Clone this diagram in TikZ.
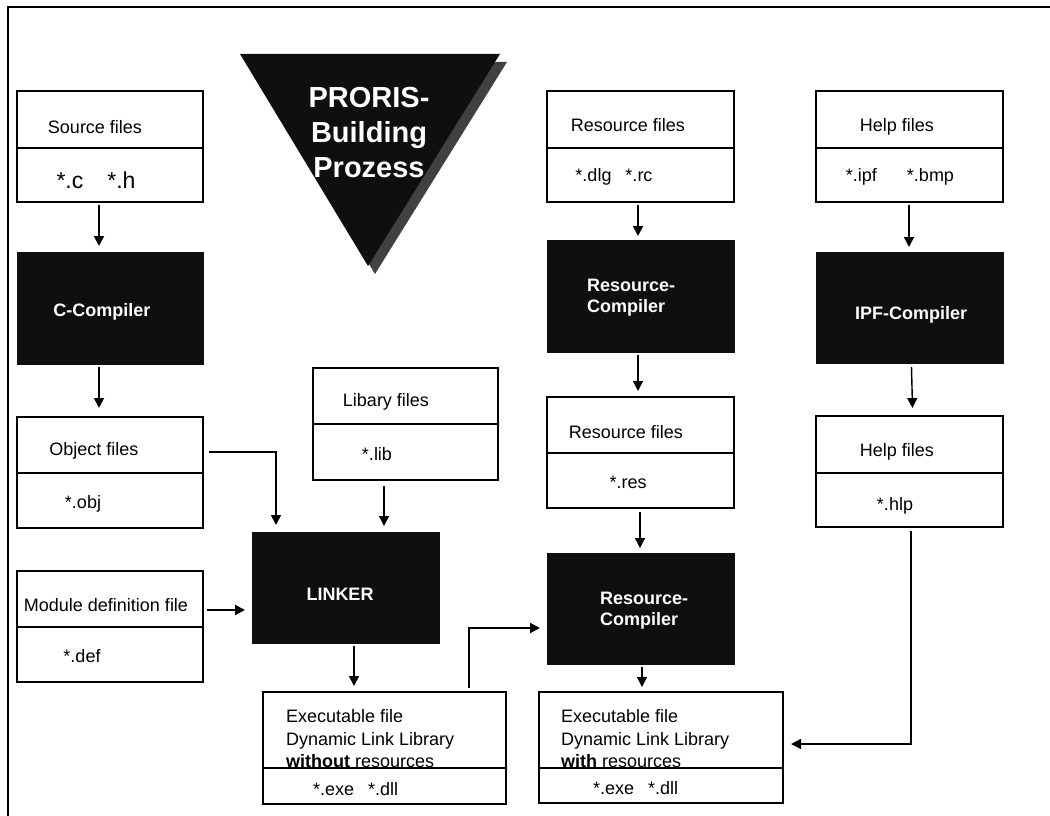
\documentclass[tikz,border=0pt]{standalone}
\usepackage{fontspec}
\setmainfont{Liberation Sans}
\usetikzlibrary{arrows.meta,calc}
\definecolor{boxblack}{HTML}{0F0F0F}
\definecolor{shadowgray}{HTML}{414141}
\begin{document}
\begin{tikzpicture}[x=1pt,y=-1pt,
  fbox/.style={draw=black, line width=1.3pt, fill=white, inner sep=0pt, outer sep=0pt},
  cbox/.style={draw=boxblack, fill=boxblack, inner sep=0pt, outer sep=0pt},
  divline/.style={line width=1.6pt},
  txt/.style={inner sep=0pt, font=\fontsize{18}{22}\selectfont, anchor=base},
  txtl/.style={txt, anchor=base west},
  bigtxt/.style={inner sep=0pt, font=\fontsize{23}{27}\selectfont, anchor=base},
  ctxt/.style={inner sep=0pt, font=\bfseries\fontsize{18}{22}\selectfont, text=white, anchor=base},
  ctxtl/.style={ctxt, anchor=base west},
  tritxt/.style={inner sep=0pt, font=\bfseries\fontsize{29}{35}\selectfont, text=white, anchor=base},
  arr/.style={line width=1.8pt, -{Triangle[length=10pt,width=10pt]}},
  arrthin/.style={line width=1.4pt, -{Triangle[length=10pt,width=10pt]}},
]
\useasboundingbox (0,0) rectangle (1050,816);
% frame
\draw[line width=1.3pt] (8,820) -- (8,7) -- (1055,7);

% triangle title
\fill[shadowgray] (247,62) -- (507,62) -- (375,274) -- cycle;
\fill[boxblack] (240,54) -- (500,54) -- (368,266) -- cycle;
\node[tritxt] (tri1) at (369,107) {PRORIS-};
\node[tritxt] (tri2) at (369,142) {Building};
\node[tritxt] (tri3) at (369,177) {Prozess};

% left column
\node[fbox, minimum width=186pt, minimum height=111pt] (src) at (110,146.5) {};
\draw[divline] (src.west |- 0,148) -- (src.east |- 0,148);
\node[txt] (srct) at (95,133) {Source files};
\node[bigtxt] (srcx) at (96,188) {*.c\hspace{24pt}*.h};

\node[cbox, minimum width=186pt, minimum height=112pt] (cc) at (110,308) {};
\node[ctxt] (cct) at (102,316) {C-Compiler};

\node[fbox, minimum width=186pt, minimum height=111pt] (obj) at (110,472.5) {};
\draw[divline] (obj.west |- 0,473) -- (obj.east |- 0,473);
\node[txt] (objt) at (94,455) {Object files};
\node[txt] (objx) at (83,508) {*.obj};

\node[fbox, minimum width=186pt, minimum height=111pt] (mod) at (110,626.5) {};
\draw[divline] (mod.west |- 0,627) -- (mod.east |- 0,627);
\node[txt] (modt) at (106,611) {Module definition file};
\node[txt] (modx) at (82,662) {*.def};

% library / linker
\node[fbox, minimum width=185pt, minimum height=112pt] (lib) at (405.5,424) {};
\draw[divline] (lib.west |- 0,424) -- (lib.east |- 0,424);
\node[txt] (libt) at (386,406) {Libary files};
\node[txt] (libx) at (377,460) {*.lib};

\node[cbox, minimum width=187pt, minimum height=111pt] (lnk) at (345.5,587.5) {};
\node[ctxt] (lnkt) at (340,600) {LINKER};

\node[fbox, minimum width=243pt, minimum height=112pt] (exeA) at (384.5,748) {};
\draw[divline] (exeA.west |- 0,768) -- (exeA.east |- 0,768);
\node[txtl] (exeAa) at (286,722) {Executable file};
\node[txtl] (exeAb) at (286,745) {Dynamic Link Library};
\node[txtl] (exeAc) at (286,767) {\textbf{without} resources};
\node[txtl] (exeAx) at (313,795) {*.exe\hspace{14pt}*.dll};

% resource column
\node[fbox, minimum width=187pt, minimum height=111pt] (rfA) at (640.5,146.5) {};
\draw[divline] (rfA.west |- 0,148) -- (rfA.east |- 0,148);
\node[txt] (rfAt) at (628,131) {Resource files};
\node[txt] (rfAx) at (614,181) {*.dlg\hspace{14pt}*.rc};

\node[cbox, minimum width=187pt, minimum height=112pt] (rcA) at (640.5,296) {};
\node[ctxtl] (rcAa) at (587,291) {Resource-};
\node[ctxtl] (rcAb) at (587,312) {Compiler};

\node[fbox, minimum width=187pt, minimum height=111pt] (rfB) at (640.5,452.5) {};
\draw[divline] (rfB.west |- 0,453) -- (rfB.east |- 0,453);
\node[txt] (rfBt) at (626,438) {Resource files};
\node[txt] (rfBx) at (628,488) {*.res};

\node[cbox, minimum width=187pt, minimum height=111pt] (rcB) at (640.5,608.5) {};
\node[ctxtl] (rcBa) at (600,604) {Resource-};
\node[ctxtl] (rcBb) at (600,625) {Compiler};

\node[fbox, minimum width=244pt, minimum height=111pt] (exeB) at (661,747.5) {};
\draw[divline] (exeB.west |- 0,768) -- (exeB.east |- 0,768);
\node[txtl] (exeBa) at (561,722) {Executable file};
\node[txtl] (exeBb) at (561,745) {Dynamic Link Library};
\node[txtl] (exeBc) at (561,767) {\textbf{with} resources};
\node[txtl] (exeBx) at (593,794) {*.exe\hspace{14pt}*.dll};

% help column
\node[fbox, minimum width=187pt, minimum height=111pt] (hfA) at (909.5,146.5) {};
\draw[divline] (hfA.west |- 0,148) -- (hfA.east |- 0,148);
\node[txt] (hfAt) at (897,131) {Help files};
\node[txt] (hfAx) at (900,181) {*.ipf\hspace{30pt}*.bmp};

\node[cbox, minimum width=187pt, minimum height=111pt] (ipf) at (909.5,307.5) {};
\node[ctxt] (ipft) at (911,319) {IPF-Compiler};

\node[fbox, minimum width=187pt, minimum height=111pt] (hfB) at (909.5,471.5) {};
\draw[divline] (hfB.west |- 0,473) -- (hfB.east |- 0,473);
\node[txt] (hfBt) at (897,456) {Help files};
\node[txt] (hfBx) at (895,510) {*.hlp};

% connectors
\draw[arr] ($(src.south)+(-11,3)$) -- ($(cc.north)+(-11,-6)$);
\draw[arr] ($(cc.south)+(-11,3)$) -- ($(obj.north)+(-11,-9)$);
\draw[arr] ($(obj.east)+(6,-20.5)$) -| ($(lnk.north)+(-69.5,-7)$);
\draw[arrthin] ($(lib.south)+(-21.5,6)$) -- ($(lnk.north)+(38.5,-6)$);
\draw[arr, line width=2.2pt] ($(mod.east)+(4,-16.5)$) -- ($(lnk.west)+(-7,22.5)$);
\draw[arr] ($(lnk.south)+(8.5,3)$) -- ($(exeA.north)+(-30.5,-6)$);
\draw[arr] ($(exeA.north)+(84.5,-4)$) |- ($(rcB.west)+(-7,19.5)$);
\draw[arr] ($(rfA.south)+(-2.5,3)$) -- ($(rcA.north)+(-2.5,-4)$);
\draw[arrthin] ($(rcA.south)+(-2.5,3)$) -- ($(rfB.north)+(-2.5,-6)$);
\draw[arrthin] ($(rfB.south)+(-0.5,4)$) -- ($(rcB.north)+(-0.5,-5)$);
\draw[arrthin] ($(rcB.south)+(1.5,3)$) -- ($(exeB.north)+(-19,-5)$);
\draw[arrthin] ($(hfA.south)+(-0.5,3)$) -- ($(ipf.north)+(-0.5,-5)$);
\draw[arrthin] ($(ipf.south)+(2,4)$) -- ($(hfB.north)+(3,-8)$);
\draw[arrthin] ($(hfB.south)+(1.5,4)$) |- ($(exeB.east)+(8,-3.5)$);
\end{tikzpicture}
\end{document}
